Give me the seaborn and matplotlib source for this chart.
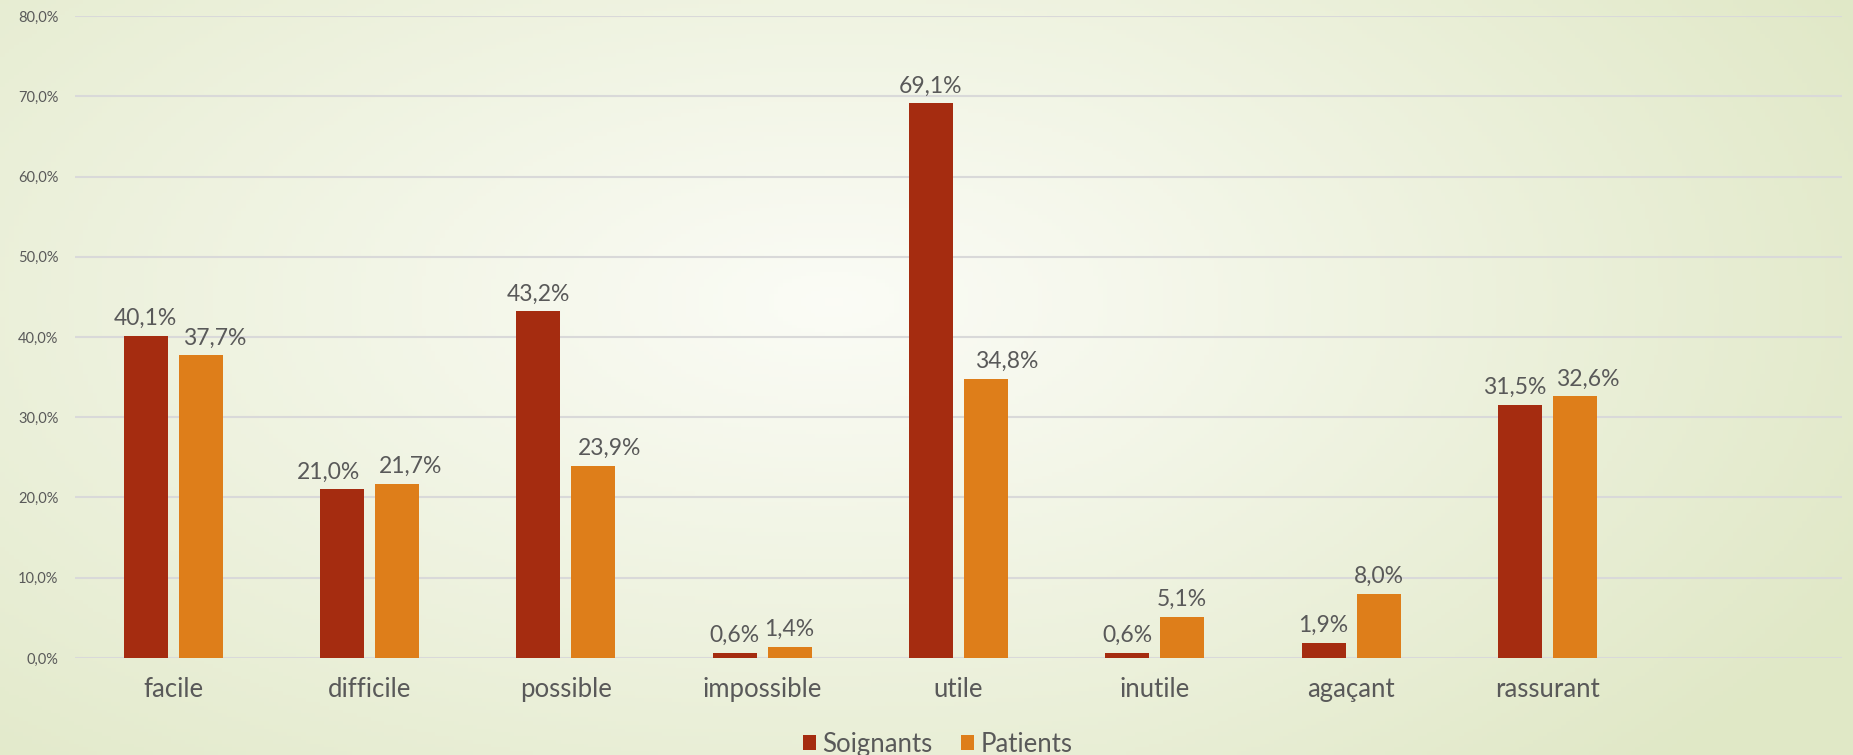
import matplotlib
matplotlib.use("Agg")
import matplotlib.pyplot as plt
import matplotlib.ticker as mticker
from matplotlib.patches import Patch
import seaborn as sns
import pandas as pd
import numpy as np

categories = ["facile", "difficile", "possible", "impossible", "utile",
              "inutile", "agaçant", "rassurant"]
soignants = [40.1, 21.0, 43.2, 0.6, 69.1, 0.6, 1.9, 31.5]
patients = [37.7, 21.7, 23.9, 1.4, 34.8, 5.1, 8.0, 32.6]
series = ["Soignants", "Patients"]
colors = ["#A52C10", "#DE7E1A"]
yticks = [0, 10, 20, 30, 40, 50, 60, 70, 80]

# small horizontal nudges (px) of value labels, like PowerPoint does to avoid overlap
label_dx = {
    "Soignants": [0, -14, 0, 0, 0, 0, 0, -5],
    "Patients": [14, 14, 16, 0, 21, 0, 0, 13],
}

df = pd.DataFrame({
    "cat": categories * 2,
    "val": soignants + patients,
    "serie": [series[0]] * len(categories) + [series[1]] * len(categories),
})

sns.set_theme(style="white")
plt.rcParams["font.family"] = ["Lato", "DejaVu Sans"]
txt = "#595959"

fig = plt.figure(figsize=(18.53, 7.55), dpi=100)

# background gradient
bg = fig.add_axes([0, 0, 1, 1], zorder=-10)
gx, gy = np.meshgrid(np.linspace(0, 1, 400), np.linspace(0, 1, 200))
d = np.sqrt(((gx - 0.45) / 0.75) ** 2 + ((gy - 0.4) / 0.9) ** 2)
d = np.clip(d + 0.35 * np.clip(gx - 0.6, 0, None), 0, 1)
c0 = np.array([0.985, 0.988, 0.965])
c1 = np.array([0.88, 0.91, 0.78])
img = c0[None, None, :] * (1 - d[..., None]) + c1[None, None, :] * d[..., None]
bg.imshow(img, aspect="auto", extent=[0, 1, 0, 1], origin="upper")
bg.axis("off")

ax = fig.add_axes([0.0405, 0.1285, 0.9535, 0.8503])
ax.set_facecolor("none")
sns.barplot(data=df, x="cat", y="val", hue="serie", palette=colors,
            width=0.56, gap=0.2, linewidth=0, saturation=1, ax=ax, zorder=3)

ax.set_xlim(-0.5, 8.5)
ax.set_ylim(0, 80)
ax.set_yticks(yticks)
ax.yaxis.set_major_formatter(mticker.FuncFormatter(lambda v, p: f"{v:.1f}%".replace(".", ",")))
ax.grid(axis="y", color="#D9D9D9", linewidth=1.5, zorder=0)
ax.grid(axis="x", visible=False)
for s in ax.spines.values():
    s.set_visible(False)
ax.tick_params(axis="y", labelsize=10.5, labelcolor=txt, length=0, pad=12)
ax.tick_params(axis="x", labelsize=18.5, labelcolor=txt, length=0, pad=14)
ax.set_xlabel("")
ax.set_ylabel("")

for cont, name in zip(ax.containers, series):
    for i, bar in enumerate(cont):
        v = bar.get_height()
        ax.annotate(f"{v:.1f}%".replace(".", ","),
                    (bar.get_x() + bar.get_width() / 2, v),
                    xytext=(label_dx[name][i] * 0.72, 5), textcoords="offset points",
                    ha="center", va="bottom", fontsize=16.5, color=txt, zorder=4)

ax.get_legend().remove()
handles = [Patch(facecolor=c, edgecolor="none") for c in colors]
fig.legend(handles, series, loc="center", bbox_to_anchor=(0.506, 0.014), ncol=2,
           frameon=False, fontsize=18.5, labelcolor=txt, handlelength=0.5,
           handleheight=0.5, handletextpad=0.25, columnspacing=1.1)

fig.savefig("out.png", dpi=100)
